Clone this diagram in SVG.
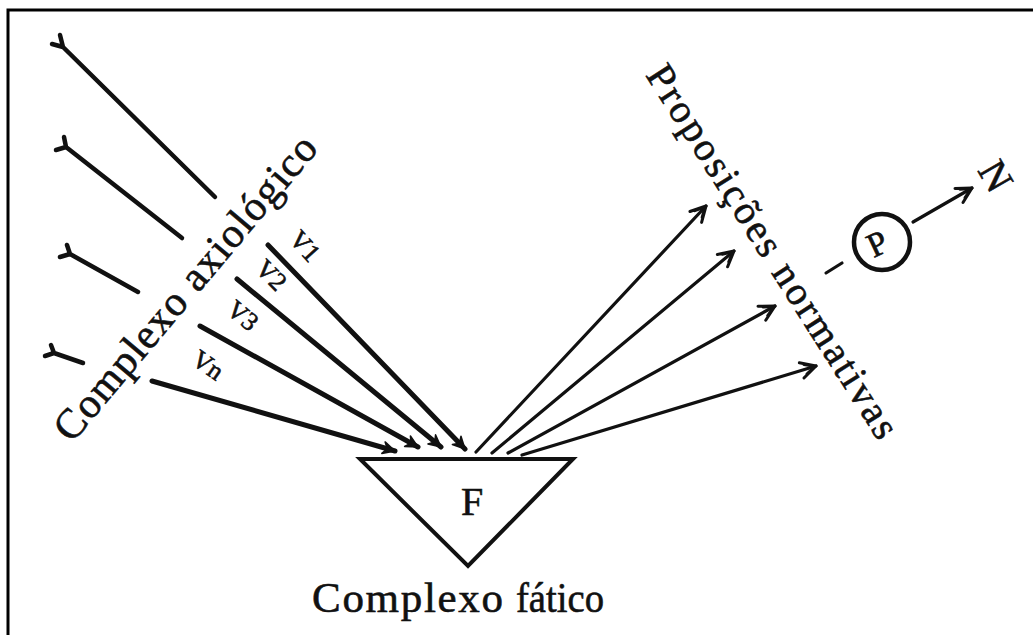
<svg xmlns="http://www.w3.org/2000/svg" width="1033" height="635" viewBox="0 0 1033 635">
  <defs>
    <style>
      .txt { font-family: "Liberation Serif", "DejaVu Serif", serif; fill: #111; stroke: #111; stroke-width: 0.6; }
      .tail { stroke: #111; stroke-width: 4.5; stroke-linecap: round; fill: none; }
      .vin { stroke: #111; stroke-width: 5; stroke-linecap: round; fill: none; }
      .out { stroke: #111; stroke-width: 3.2; stroke-linecap: round; fill: none; }
    </style>
    <marker id="headIn" markerUnits="userSpaceOnUse" markerWidth="18" markerHeight="16" refX="14" refY="8" orient="auto">
      <path d="M2,2 L14,8 L2,14 L6,8 Z" fill="#111" stroke="#111" stroke-width="1.5" stroke-linejoin="round"/>
    </marker>
    <marker id="headOut" markerUnits="userSpaceOnUse" markerWidth="22" markerHeight="20" refX="18" refY="10" orient="auto">
      <path d="M3,2 L18,10 L3,18 M7,5 L17,10 L7,15" fill="none" stroke="#111" stroke-width="3" stroke-linecap="round" stroke-linejoin="round"/>
    </marker>
  </defs>

  <rect x="0" y="0" width="1033" height="635" fill="#fff"/>
  <!-- frame -->
  <path d="M8,635 L8,10 L1033,10" fill="none" stroke="#000" stroke-width="3"/>

  <!-- feathered lines on the left -->
  <g id="tails">
    <path class="tail" d="M63,47 L215,197 M63,47 L60,35 M63,47 L52,44"/>
    <path class="tail" d="M66,147 L182,238 M66,147 L64,137 M66,147 L56,150"/>
    <path class="tail" d="M70,254 L138,292 M70,254 L67,245 M70,254 L60,257"/>
    <path class="tail" d="M54,353 L83,363 M54,353 L51,345 M54,353 L45,356"/>
  </g>

  <g id="label-axiologico">
    <text class="txt" font-size="42" transform="translate(72,444) rotate(-50)" x="0" y="0" textLength="385" lengthAdjust="spacing">Complexo axiológico</text>
  </g>

  <g id="label-proposicoes">
    <text class="txt" font-size="40" transform="translate(645,75) rotate(57.5)" x="0" y="0" textLength="435" lengthAdjust="spacing">Proposições  normativas</text>
  </g>

  <g id="connectors">
    <line class="vin" x1="268" y1="245" x2="465" y2="449" marker-end="url(#headIn)"/>
    <line class="vin" x1="237" y1="279" x2="441" y2="447" marker-end="url(#headIn)"/>
    <line class="vin" x1="200" y1="326" x2="418" y2="447" marker-end="url(#headIn)"/>
    <line class="vin" x1="152" y1="381" x2="395" y2="451" marker-end="url(#headIn)"/>

    <line class="out" x1="476" y1="452" x2="706" y2="206" marker-end="url(#headOut)"/>
    <line class="out" x1="492" y1="453" x2="734" y2="251" marker-end="url(#headOut)"/>
    <line class="out" x1="508" y1="453" x2="775" y2="306" marker-end="url(#headOut)"/>
    <line class="out" x1="522" y1="455" x2="816" y2="366" marker-end="url(#headOut)"/>

    <line class="out" x1="826" y1="273" x2="842" y2="263" stroke-width="4"/>
    <line class="out" x1="913" y1="222" x2="972" y2="188" marker-end="url(#headOut)"/>
  </g>

  <g id="v-labels">
    <text class="txt" font-size="26" transform="translate(288,240) rotate(48)">V1</text>
    <text class="txt" font-size="26" transform="translate(254,270) rotate(45)">V2</text>
    <text class="txt" font-size="26" transform="translate(225,312) rotate(40)">V3</text>
    <text class="txt" font-size="26" transform="translate(190,363) rotate(35)">Vn</text>
  </g>

  <g id="node-F">
    <path d="M360,459 L573,459 L468,566 Z" fill="none" stroke="#111" stroke-width="4" stroke-linejoin="miter"/>
    <text class="txt" font-size="40" x="472" y="515" text-anchor="middle">F</text>
  </g>

  <g id="label-fatico">
    <text class="txt" font-size="43" y="612"><tspan x="312" textLength="191" lengthAdjust="spacing">Complexo</tspan> <tspan x="516" textLength="88" lengthAdjust="spacingAndGlyphs">fático</tspan></text>
  </g>

  <g id="node-P">
    <circle cx="882" cy="242" r="28" fill="none" stroke="#111" stroke-width="4.5"/>
    <text class="txt" font-size="34" transform="translate(882,254) rotate(-25)" text-anchor="middle">P</text>
  </g>

  <g id="node-N">
    <text class="txt" font-size="40" transform="translate(996,176) rotate(60)" text-anchor="middle" dominant-baseline="central">N</text>
  </g>
</svg>
